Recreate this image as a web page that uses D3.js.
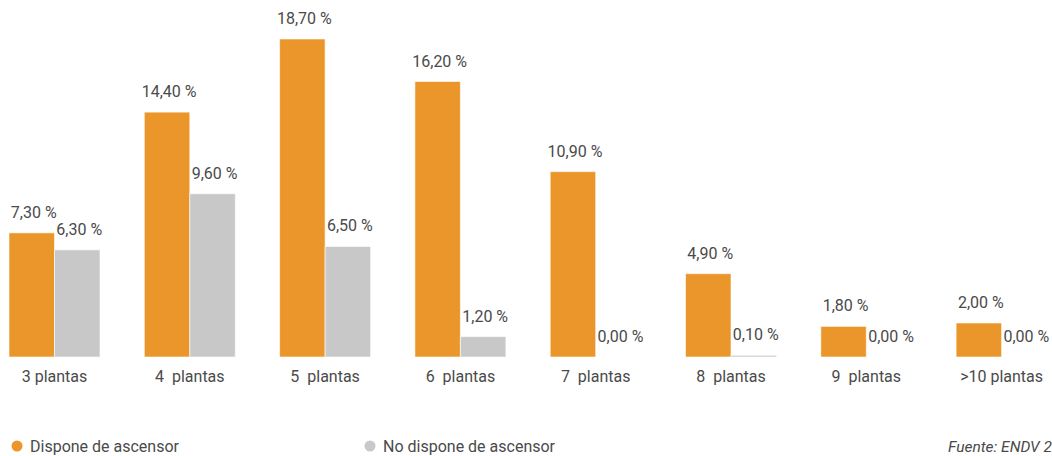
<!DOCTYPE html>
<html><head><meta charset="utf-8">
<script src="https://cdn.jsdelivr.net/npm/d3@7"></script>
<style>
html,body{margin:0;padding:0;background:#fff;overflow:hidden;}
svg{display:block;font-family:Roboto, "Noto Sans", sans-serif;}
</style></head>
<body>
<svg id="chart" width="1052" height="456"></svg>
<script>
const categories = ["3 plantas", "4  plantas", "5  plantas", "6  plantas", "7  plantas", "8  plantas", "9  plantas", ">10 plantas"];
const series = ["Dispone de ascensor", "No dispone de ascensor"];
const conAscensor = [7.3, 14.4, 18.7, 16.2, 10.9, 4.9, 1.8, 2.0];
const sinAscensor = [6.3, 9.6, 6.5, 1.2, 0.0, 0.1, 0.0, 0.0];
const colors = ["#EB962A", "#C8C8C8"];
const fuente = "Fuente: ENDV 2022";

const svg = d3.select("#chart");
const fmt = v => v.toFixed(2).replace(".", ",") + " %";

const step = 135.3, band = 91;
const x0 = d3.scaleBand().domain(categories).range([9, 9 + 7*step + band]).paddingInner(1 - band/step).paddingOuter(0);
const x1 = d3.scaleBand().domain(series).range([0, x0.bandwidth()]).padding(0);
const y = d3.scaleLinear().domain([0, 18.7]).range([357, 39]);

const data = categories.map((c, i) => ({cat: c, vals: [conAscensor[i], sinAscensor[i]]}));

const g = svg.selectAll("g.grp").data(data).join("g").attr("class","grp")
  .attr("transform", d => `translate(${x0(d.cat)},0)`);

g.selectAll("rect").data(d => d.vals.map((v, k) => ({v, k}))).join("rect")
  .attr("x", d => x1(series[d.k]))
  .attr("width", x1.bandwidth())
  .attr("y", d => y(d.v))
  .attr("height", d => y(0) - y(d.v))
  .attr("fill", d => colors[d.k])
  .attr("stroke", "rgba(255,255,255,0.6)")
  .attr("stroke-width", 1);

g.selectAll("text.val").data(d => d.vals.map((v, k) => ({v, k}))).join("text")
  .attr("class","val")
  .attr("x", d => x1(series[d.k]) + x1.bandwidth()/2 + 2)
  .attr("y", d => y(d.v) - 15)
  .attr("text-anchor","middle")
  .attr("font-size", 16)
  .attr("fill", "#4a4a4a")
  .text(d => fmt(d.v));

const xAxis = d3.axisBottom(x0).tickSize(0).tickPadding(0);
const ax = svg.append("g").attr("transform", "translate(0,371)").call(xAxis);
ax.select(".domain").remove();
ax.selectAll("text").attr("font-size", 16).attr("fill", "#4a4a4a")
  .attr("font-family", "Roboto, 'Noto Sans', sans-serif")
  .style("white-space", "pre").attr("xml:space","preserve");

// legend
const legX = [17, 370];
const leg = svg.selectAll("g.leg").data(series).join("g").attr("class","leg")
  .attr("transform", (d, i) => `translate(${legX[i]},446)`);
leg.append("circle").attr("r", 5.5).attr("fill", (d, i) => colors[i]);
leg.append("text").attr("x", 13).attr("y", 5.5).attr("font-size", 16).attr("fill", "#4a4a4a").text(d => d);

svg.append("text").attr("x", 948).attr("y", 451.5).attr("font-size", 15.5)
  .attr("font-style", "italic").attr("fill", "#4a4a4a").text(fuente);
</script>
</body></html>
